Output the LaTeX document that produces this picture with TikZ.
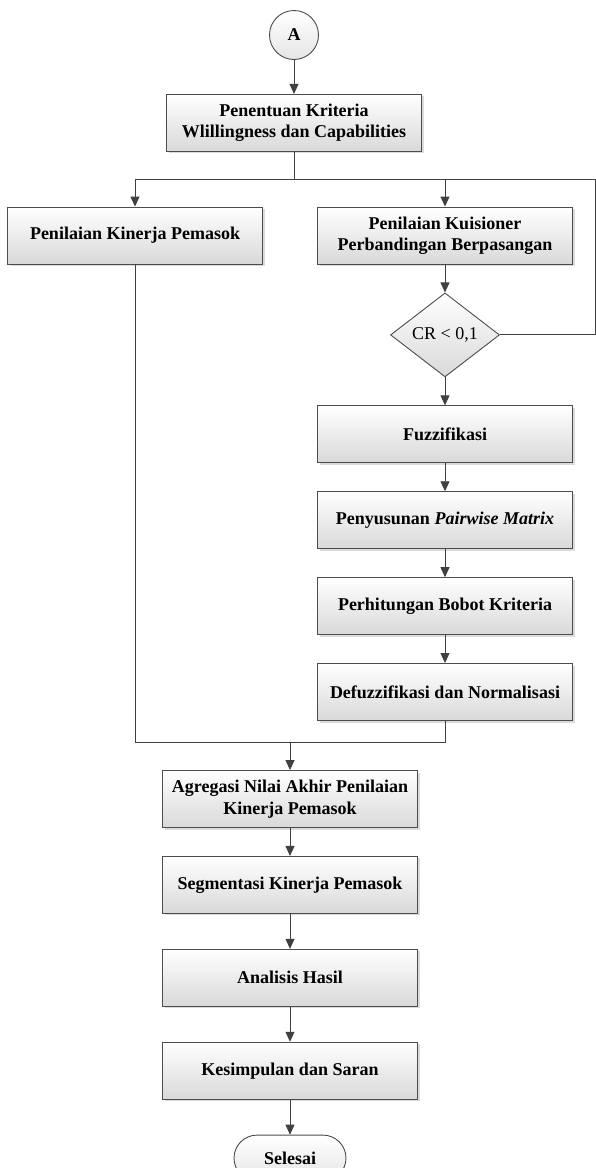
\documentclass[tikz,border=0pt]{standalone}
\usepackage{fontspec}
\setmainfont{Liberation Serif}
\usetikzlibrary{shapes.geometric, positioning, arrows.meta, shadows}
\tikzset{
    >={Triangle[width=9pt, length=10pt]}, % filled arrow heads
    x=1pt, y=-1pt, % pixel-like coordinates, y going down the page
    node distance=28pt, % gap between two boxes of a column
    every node/.style={font=\fontsize{18}{21.5}\selectfont\bfseries}, % bold serif text
    process/.style={draw=black!70, line width=0.9pt, top color=white, bottom color=black!15,
        drop shadow={shadow xshift=2pt, shadow yshift=-2pt, fill=black!35, opacity=0.4},
        minimum width=255pt, minimum height=57pt, align=center, inner sep=2pt}, % the steps
    decision/.style={diamond, draw=black!70, line width=0.9pt, top color=white, bottom color=black!15,
        minimum width=109pt, minimum height=84pt, aspect=1.3, inner sep=0pt,
        font=\fontsize{18}{21.5}\selectfont}, % the check
    connector/.style={circle, draw=black!70, line width=0.9pt, top color=white, bottom color=black!10,
        minimum size=49pt, inner sep=0pt}, % off-page mark
    terminal/.style={rectangle, rounded corners=23pt, draw=black!70, line width=0.9pt,
        top color=white, bottom color=black!10, minimum width=112pt, minimum height=46pt}, % end
    line/.style={draw=black!75, line width=0.9pt}, % connectors
    }
\begin{document}
\begin{tikzpicture}
\useasboundingbox (0,0) rectangle (596,1168);

\node[connector] (A) at (294,35) {A};
\node[process, below=34pt of A] (crit) {Penentuan Kriteria\\Wlillingness dan Capabilities};
\node[process] (kin) at (135,235.5) {Penilaian Kinerja Pemasok};
\node[process] (kuis) at (445,235.5) {Penilaian Kuisioner\\Perbandingan Berpasangan};
\node[decision, below=of kuis] (cr) {CR < 0,1};
\node[process, below=of cr] (fuzz) {Fuzzifikasi};
\node[process, below=of fuzz] (pair) {Penyusunan \textit{Pairwise Matrix}};
\node[process, below=of pair] (hit) {Perhitungan Bobot Kriteria};
\node[process, below=of hit] (defuz) {Defuzzifikasi dan Normalisasi};
\node[process] (agr) at (290,799) {Agregasi Nilai Akhir Penilaian\\Kinerja Pemasok};
\node[process, below=of agr] (seg) {Segmentasi Kinerja Pemasok};
\node[process, below=35pt of seg] (ana) {Analisis Hasil};
\node[process, below=35pt of ana] (kes) {Kesimpulan dan Saran};
\node[terminal, below=35pt of kes] (sel) {Selesai};

\coordinate (split) at (294,179);
\coordinate (loop) at (595,179);
\coordinate (merge) at (290,742);

\draw[line, ->] (A) -- (crit);
\draw[line] (crit) -- (split);
\draw[line, ->] (split) -| (kin);
\draw[line, ->] (split) -| (kuis);
\draw[line] (cr) -| (loop) -- (split);
\draw[line] (kin) |- (merge);
\draw[line] (defuz) |- (merge);
\foreach \u/\v in {kuis/cr, cr/fuzz, fuzz/pair, pair/hit, hit/defuz, merge/agr, agr/seg, seg/ana, ana/kes, kes/sel}
    \draw[line, ->] (\u) -- (\v);

\end{tikzpicture}
\end{document}
